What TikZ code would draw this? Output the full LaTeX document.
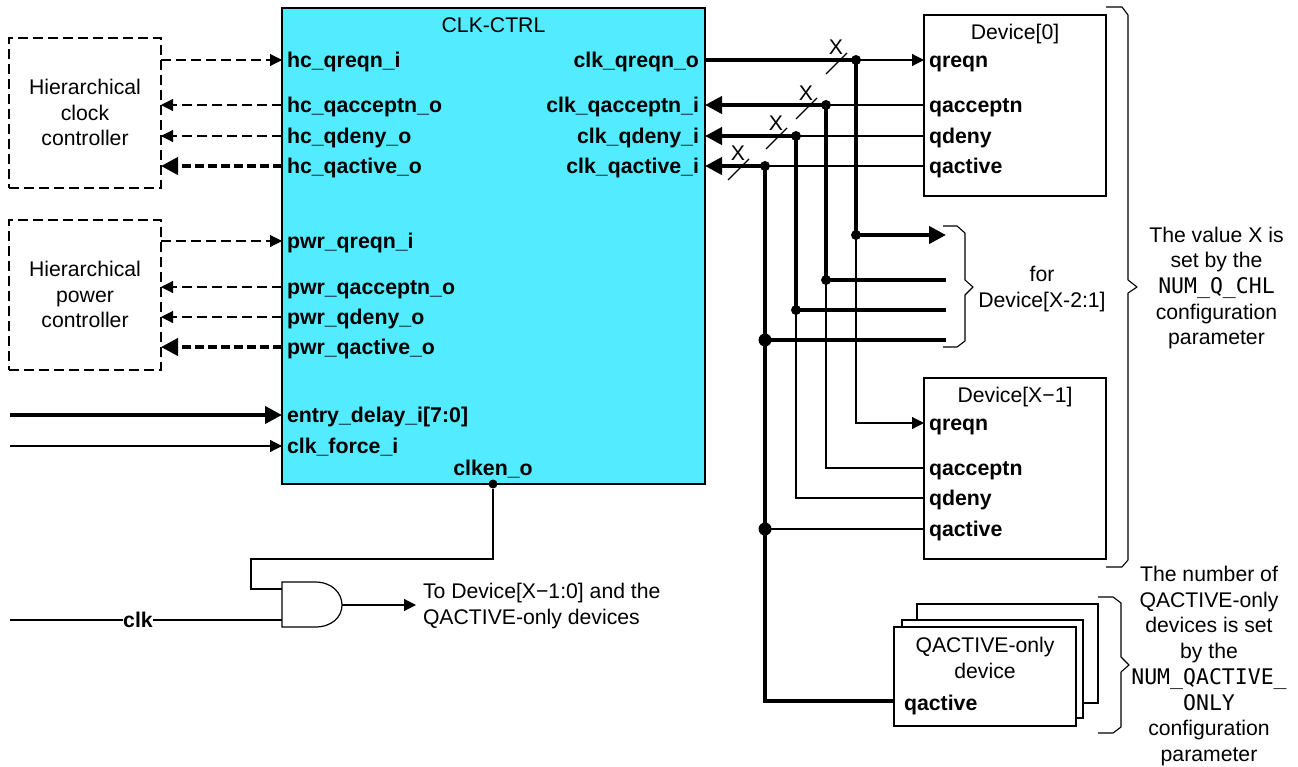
\documentclass[tikz,border=0pt]{standalone}
\usepackage{fontspec}
\setmainfont{Liberation Sans}
\newfontfamily\monof{DejaVu Sans Mono}
\usetikzlibrary{arrows.meta}
\definecolor{ctrl}{HTML}{52EBFF}
\newcommand{\monotext}[1]{{\monof\fontsize{21.5}{25.7}\selectfont #1}}
\tikzset{
  x=1pt,y=-1pt,
  every node/.style={font=\fontsize{21.2}{25.7}\selectfont,inner sep=0pt,outer sep=0pt},
  thin wire/.style={line width=1.2pt},
  thick wire/.style={line width=4pt},
  tipS/.style={-{Triangle[length=12pt,width=12pt]}},
  tipB/.style={-{Triangle[length=17pt,width=17pt]}},
  dash thin/.style={line width=1.1pt,dash pattern=on 10pt off 5pt},
  dash thick/.style={line width=4pt,dash pattern=on 9pt off 4pt},
  sig/.style={font=\fontsize{21.3}{25.7}\selectfont\bfseries},
  sigL/.style={sig,anchor=base west},
  sigR/.style={sig,anchor=base east},
  blk/.style={draw,line width=1.2pt,fill=white,anchor=north west,rectangle},
  dbox/.style={draw,line width=1.1pt,dash pattern=on 10pt off 5pt,anchor=north west,rectangle,align=center},
  dot/.style={circle,fill=black,minimum size=10pt},
  bigdot/.style={circle,fill=black,minimum size=13pt},
  brc/.style={line width=1.1pt,line join=round},
  slash/.style={line width=1.1pt},
  ctext/.style={align=center,anchor=base},
}
\begin{document}
\begin{tikzpicture}
\useasboundingbox (0,0) rectangle (1298,766);
% main block
\node[draw,line width=1.2pt,fill=ctrl,anchor=north west,minimum width=423pt,minimum height=476pt] (main) at (282,8) {};
\node[ctext] (title) at (493.5,32) {CLK-CTRL};
% left controllers
\node[dbox,minimum width=152pt,minimum height=150pt] (hcc) at (9,38) {};
\node[align=center] (hcct) at (85,112.5) {Hierarchical\\clock\\controller};
\node[dbox,minimum width=152pt,minimum height=150pt] (hpc) at (9,220) {};
\node[align=center] (hpct) at (85,294.5) {Hierarchical\\power\\controller};
% left pins
\coordinate (p1) at (282,60);
\coordinate (p2) at (282,105);
\coordinate (p3) at (282,136);
\coordinate (p4) at (282,166);
\coordinate (p5) at (282,241);
\coordinate (p6) at (282,287);
\coordinate (p7) at (282,317);
\coordinate (p8) at (282,347);
\coordinate (p9) at (282,415);
\coordinate (p10) at (282,446);
\coordinate (in9) at (10,415);
\coordinate (in10) at (10,446);
\node[sigL] (l1) at (287,67) {hc\_qreqn\_i};
\node[sigL] (l2) at (287,112) {hc\_qacceptn\_o};
\node[sigL] (l3) at (287,143) {hc\_qdeny\_o};
\node[sigL] (l4) at (287,173) {hc\_qactive\_o};
\node[sigL] (l5) at (287,248) {pwr\_qreqn\_i};
\node[sigL] (l6) at (287,294) {pwr\_qacceptn\_o};
\node[sigL] (l7) at (287,324) {pwr\_qdeny\_o};
\node[sigL] (l8) at (287,354) {pwr\_qactive\_o};
\node[sigL] (l9) at (287,422) {entry\_delay\_i[7:0]};
\node[sigL] (l10) at (287,453) {clk\_force\_i};
\node[sig,anchor=base] (l11) at (493,475) {clken\_o};
\draw[dash thin,tipS] (hcc.east |- p1) -- (p1);
\draw[dash thin,tipS] (p2) -- (hcc.east |- p2);
\draw[dash thin,tipS] (p3) -- (hcc.east |- p3);
\draw[dash thick,tipB] (p4) -- (hcc.east |- p4);
\draw[dash thin,tipS] (hpc.east |- p5) -- (p5);
\draw[dash thin,tipS] (p6) -- (hpc.east |- p6);
\draw[dash thin,tipS] (p7) -- (hpc.east |- p7);
\draw[dash thick,tipB] (p8) -- (hpc.east |- p8);
\draw[thick wire,tipB] (in9) -- (p9);
\draw[thin wire,tipS] (in10) -- (p10);
% right pins
\node[sigR] (r1) at (699,67) {clk\_qreqn\_o};
\node[sigR] (r2) at (699,112) {clk\_qacceptn\_i};
\node[sigR] (r3) at (699,143) {clk\_qdeny\_i};
\node[sigR] (r4) at (699,173) {clk\_qactive\_i};
% devices
\node[blk,minimum width=182pt,minimum height=181pt] (dev0) at (924,15) {};
\node[ctext] (dev0t) at (1015,39) {Device[0]};
\node[sigL] (d1) at (929,67) {qreqn};
\node[sigL] (d2) at (929,112) {qacceptn};
\node[sigL] (d3) at (929,143) {qdeny};
\node[sigL] (d4) at (929,173) {qactive};
\node[blk,minimum width=182pt,minimum height=181pt] (dev1) at (924,378) {};
\node[ctext] (dev1t) at (1015,402) {Device[X−1]};
\node[sigL] (e1) at (929,430) {qreqn};
\node[sigL] (e2) at (929,475) {qacceptn};
\node[sigL] (e3) at (929,505) {qdeny};
\node[sigL] (e4) at (929,536) {qactive};
% stacked devices
\node[blk,minimum width=181pt,minimum height=99pt] (q3) at (917,604) {};
\node[blk,minimum width=181pt,minimum height=98pt] (q2) at (902,620) {};
\node[blk,minimum width=182pt,minimum height=99pt] (q1) at (894,627) {};
\node[align=center] (q1t) at (985,658) {QACTIVE-only\\device};
\node[sigL] (q1s) at (904,710) {qactive};
% junctions
\coordinate (j0) at (856,60);
\coordinate (j1) at (826,105);
\coordinate (j2) at (796,136);
\coordinate (j3) at (765,166);
\coordinate (t0) at (856,235);
\coordinate (t1) at (826,280);
\coordinate (t2) at (796,310);
\coordinate (t3) at (765,340);
\coordinate (w0) at (856,423);
\coordinate (w1) at (826,468);
\coordinate (w2) at (796,498);
\coordinate (w3) at (765,529);
\coordinate (o0) at (946,235);
\coordinate (o1) at (946,280);
\coordinate (o2) at (946,310);
\coordinate (o3) at (946,340);
\coordinate (q0) at (765,701);
% wires
\draw[thin wire,tipS] (j0) -- (dev0.west |- j0);
\draw[thin wire] (j1) -- (dev0.west |- j1);
\draw[thin wire] (j2) -- (dev0.west |- j2);
\draw[thin wire] (j3) -- (dev0.west |- j3);
\draw[thick wire] (main.east |- j0) -- (j0) -- (t0);
\draw[thick wire,tipB] (t0) -- (o0);
\draw[thick wire,tipB] (j1) -- (main.east |- j1);
\draw[thick wire] (j1) -- (t1) -- (o1);
\draw[thick wire,tipB] (j2) -- (main.east |- j2);
\draw[thick wire] (j2) -- (t2) -- (o2);
\draw[thick wire,tipB] (j3) -- (main.east |- j3);
\draw[thick wire] (j3) -- (t3) -- (o3);
\draw[thick wire,line join=miter] (t3) -- (w3) -- (q0) -- (q1.west |- q0);
\draw[thin wire,tipS] (t0) -- (w0) -- (dev1.west |- w0);
\draw[thin wire] (t1) -- (w1) -- (dev1.west |- w1);
\draw[thin wire] (t2) -- (w2) -- (dev1.west |- w2);
\draw[thin wire] (w3) -- (dev1.west |- w3);
\foreach \c in {j0,j1,j2,j3,t0,t1,t2}{\node[dot] at (\c) {};}
\node[bigdot] (bt3) at (t3) {};
\node[bigdot] (bw3) at (w3) {};
% bus slashes
\draw[slash] (826,74) -- (847,53);
\draw[slash] (796,119) -- (817,98);
\draw[slash] (766,149) -- (787,128);
\draw[slash] (728,180) -- (749,159);
\node (x0) at (836,47) {X};
\node (x1) at (806,93) {X};
\node (x2) at (776,123) {X};
\node (x3) at (738,153) {X};
% braces
\draw[brc] (943,226) -- (957,226) -- (965,233) -- (965,280) -- (973,287) -- (965,295) -- (965,341) -- (957,347) -- (943,347);
\draw[brc] (1106,7) -- (1122,7) -- (1128,15) -- (1128,280) -- (1137,287) -- (1128,293) -- (1128,560) -- (1122,567) -- (1106,567);
\draw[brc] (1098,597) -- (1113,597) -- (1121,603) -- (1121,657) -- (1129,665) -- (1121,672) -- (1121,727) -- (1113,733) -- (1098,733);
\node[align=center] (fort) at (1042,289) {for\\Device[X-2:1]};
% right text
\node[align=center] (vt) at (1216.5,288) {The value X is\\set by the\\\monotext{NUM\_Q\_CHL}\\configuration\\parameter};
\node[align=center] (nt) at (1209,666) {The number of\\QACTIVE-only\\devices is set\\by the\\\monotext{NUM\_QACTIVE\_}\\\monotext{ONLY}\\configuration\\parameter};
% clock gate
\node[dot,minimum size=9pt] (cdot) at (493,484) {};
\coordinate (g1) at (282,589);
\coordinate (g2) at (282,620);
\coordinate (gout) at (342,605);
\coordinate (outend) at (416,605);
\coordinate (clkin) at (10,620);
\coordinate (b1) at (493,559);
\coordinate (b2) at (251,559);
\coordinate (b3) at (251,589);
\draw[thin wire] (cdot) -- (b1) -- (b2) -- (b3) -- (g1);
\draw[thin wire] (clkin) -- (g2);
\node[sig,fill=white] (clk) at (138,620) {clk};
\draw[thin wire,fill=white] (282,582) -- (315,582) .. controls (332,582) and (342,593) .. (342,605) .. controls (342,617) and (332,627) .. (315,627) -- (282,627) -- cycle;
\draw[thin wire,tipS] (gout) -- (outend);
\node[align=left,anchor=west] (tod) at (423,606) {To Device[X−1:0] and the\\QACTIVE-only devices};
\end{tikzpicture}
\end{document}
